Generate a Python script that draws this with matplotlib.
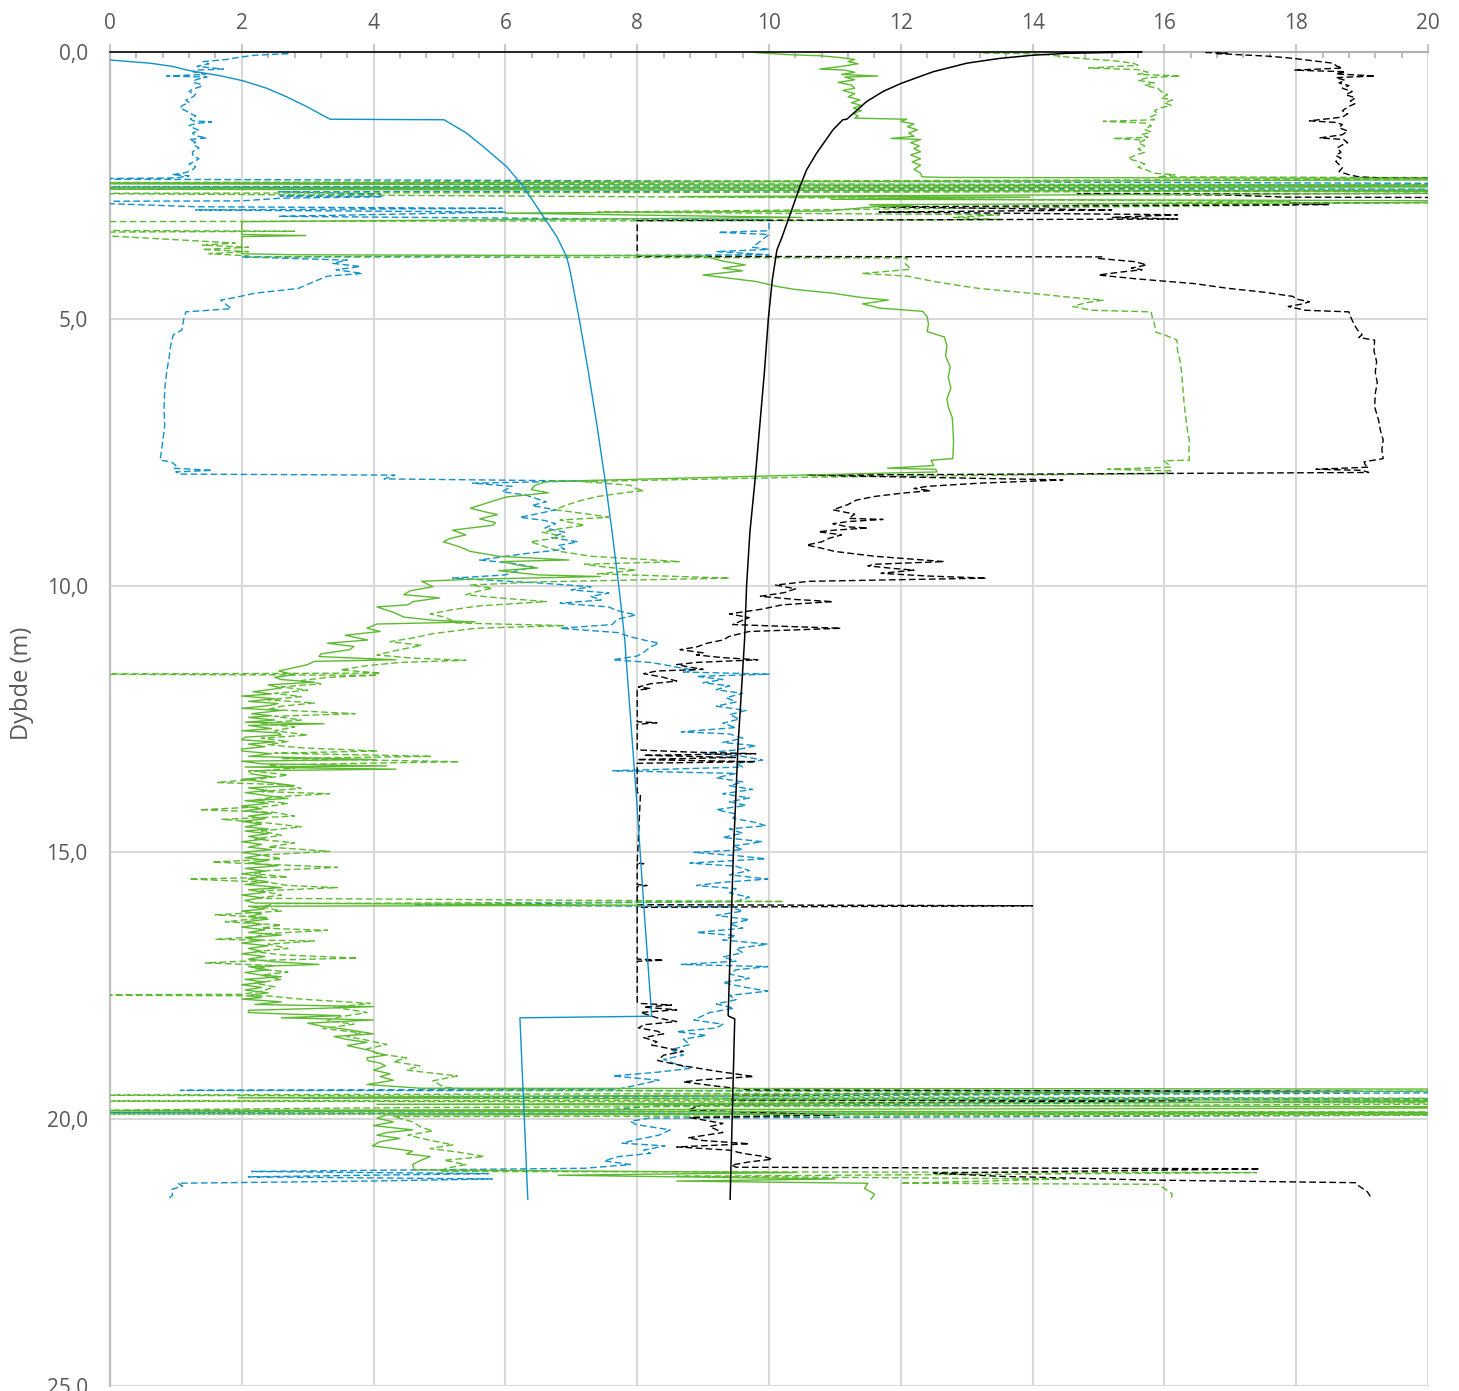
# sonderingsprofil, dybde mot måleverdier

import matplotlib
matplotlib.use('Agg')
from matplotlib import pyplot as plt
from matplotlib.ticker import MultipleLocator, FuncFormatter

# (dybde m, verdi) - lest av figuren
blaa_hel = [(0.15, 0.0), (0.21, 0.61), (0.27, 0.95), (0.35, 1.21), (0.44, 1.65), (0.54, 2.02),
            (0.68, 2.38), (0.84, 2.68), (1.02, 2.98), (1.26, 3.34),
            (1.27, 5.07), (1.52, 5.41), (1.77, 5.66), (2.15, 6.02), (2.52, 6.27), (3.09, 6.58),
            (3.46, 6.78), (3.84, 6.93), (4.09, 6.98), (5.0, 7.12), (6.0, 7.26), (7.0, 7.39),
            (8.0, 7.51), (9.0, 7.62), (10.0, 7.72), (11.0, 7.81), (12.0, 7.87), (14.0, 7.99),
            (16.0, 8.1), (18.07, 8.22), (18.1, 6.22), (21.5, 6.34)]

svart_hel = [(0.0, 0.0), (0.0, 15.66), (0.013, 15.02), (0.025, 14.52), (0.06, 14.0), (0.12, 13.5),
             (0.21, 13.0), (0.37, 12.49), (0.59, 12.0), (0.74, 11.73), (0.93, 11.48), (1.15, 11.28),
             (1.26, 11.18), (1.27, 11.12), (1.46, 10.97), (1.9, 10.72), (2.21, 10.57), (2.52, 10.47),
             (3.15, 10.29), (3.46, 10.2), (3.71, 10.12), (4.27, 10.05), (5.0, 9.99), (6.0, 9.93),
             (7.0, 9.86), (8.0, 9.79), (9.0, 9.71), (10.0, 9.66), (11.0, 9.63), (13.0, 9.53),
             (15.0, 9.46), (18.05, 9.38), (18.07, 9.39), (18.12, 9.48), (21.5, 9.41)]

gronn_hel = [(0.01, 9.79), (0.05, 10.3), (0.07, 10.77), (0.1, 11.05), (0.14, 11.3), (0.18, 11.2),
             (0.22, 11.35), (0.27, 11.1), (0.32, 10.77), (0.34, 11.15), (0.38, 11.3), (0.42, 11.1),
             (0.45, 11.65), (0.47, 11.15), (0.52, 11.3), (0.57, 11.05), (0.62, 11.25), (0.68, 11.3),
             (0.72, 11.12), (0.78, 11.3), (0.84, 11.2), (0.9, 11.38), (0.95, 11.25), (1.0, 11.4),
             (1.05, 11.28), (1.1, 11.4), (1.15, 11.28), (1.2, 11.35), (1.24, 11.3), (1.26, 12.09),
             (1.3, 12.0), (1.35, 12.2), (1.4, 12.1), (1.46, 12.25), (1.52, 12.12), (1.58, 12.2),
             (1.62, 11.85), (1.64, 12.3), (1.7, 12.15), (1.76, 12.28), (1.81, 12.2), (1.87, 12.3),
             (1.93, 12.15), (2.0, 12.3), (2.06, 12.17), (2.12, 12.3), (2.2, 12.2), (2.27, 12.3),
             (2.34, 12.32), (2.35, 12.6), (2.38, 25),
             (2.47, -1), (2.52, 25), (2.57, -1), (2.62, 25), (2.71, 8.67), (2.72, 13.96),
             (2.76, 10.94), (2.8, 25), (2.86, 11.53), (2.88, 12.17), (2.9, 11.6), (2.98, 10.9),
             (3.02, 6.0), (3.1, 10.5), (3.18, 2.0), (3.42, 2.0), (3.44, 2.97), (3.46, 2.0),
             (3.78, 2.0), (3.8, 2.8), (3.82, 9.0), (3.92, 9.3), (3.99, 9.64), (4.05, 9.3),
             (4.1, 9.6), (4.18, 9.0), (4.3, 9.8), (4.4, 10.15), (4.45, 10.4), (4.52, 10.96),
             (4.6, 11.4), (4.65, 11.81), (4.72, 11.42), (4.8, 11.68), (4.86, 12.33), (4.96, 12.4),
             (5.1, 12.42), (5.24, 12.4), (5.34, 12.66), (5.5, 12.7), (5.7, 12.68), (5.9, 12.75),
             (6.1, 12.72), (6.3, 12.76), (6.5, 12.7), (6.65, 12.72), (6.85, 12.78), (7.02, 12.79),
             (7.3, 12.8), (7.62, 12.79), (7.65, 12.46), (7.75, 12.5), (7.8, 11.8), (7.82, 12.53),
             (7.87, 12.55), (7.93, 10.47), (8.05, 6.62), (8.12, 6.45), (8.2, 6.39), (8.26, 6.65),
             (8.34, 6.01), (8.42, 5.8), (8.55, 5.47), (8.62, 5.7), (8.67, 5.88), (8.75, 5.61),
             (8.82, 5.85), (8.87, 5.81), (8.96, 5.2), (9.05, 5.4), (9.12, 5.15), (9.18, 5.06),
             (9.27, 5.3), (9.36, 5.47), (9.45, 5.9), (9.52, 6.96), (9.55, 5.95), (9.62, 6.2),
             (9.67, 6.49), (9.72, 5.9), (9.8, 6.5), (9.83, 7.44), (9.88, 5.5), (9.92, 4.73),
             (10.02, 4.9), (10.1, 4.55), (10.17, 4.46), (10.23, 5.0), (10.3, 4.6), (10.36, 4.52),
             (10.4, 4.05), (10.5, 4.3), (10.59, 4.46), (10.65, 4.9), (10.68, 5.54), (10.72, 4.05),
             (10.8, 3.9), (10.86, 4.1), (10.93, 3.57), (11.02, 3.91), (11.08, 3.3), (11.14, 3.7),
             (11.2, 3.64), (11.28, 3.2), (11.33, 3.17), (11.39, 4.34), (11.42, 3.1), (11.48, 3.0),
             (11.55, 2.75), (11.6, 2.56), (11.67, 2.79), (11.72, 2.5), (11.76, 2.6), (11.81, 3.1),
             (11.86, 2.4), (11.92, 2.6), (11.99, 2.17), (12.03, 2.45), (12.07, 2.0), (12.12, 2.5),
             (12.17, 2.1), (12.21, 2.55), (12.25, 2.4), (12.3, 2.0), (12.34, 2.6), (12.4, 2.15),
             (12.44, 2.45), (12.47, 2.1), (12.52, 2.5), (12.56, 2.05), (12.59, 3.25), (12.62, 2.1),
             (12.68, 2.45), (12.72, 2.0), (12.76, 2.55), (12.8, 2.6), (12.84, 2.05), (12.89, 2.0),
             (12.93, 2.5), (12.97, 2.1), (13.02, 2.35), (13.06, 2.0), (13.1, 2.0), (13.15, 2.45),
             (13.2, 2.1), (13.26, 4.03), (13.29, 2.0), (13.34, 2.3), (13.38, 4.2), (13.4, 2.05),
             (13.44, 4.34), (13.47, 2.1), (13.53, 2.15), (13.58, 2.45), (13.63, 2.0), (13.68, 2.35),
             (13.75, 2.8), (13.79, 2.1), (13.84, 2.4), (13.88, 2.05), (13.93, 2.35), (13.99, 2.7),
             (14.03, 2.05), (14.08, 2.4), (14.13, 2.0), (14.18, 2.3), (14.22, 2.05), (14.27, 2.45),
             (14.32, 2.1), (14.37, 2.35), (14.42, 2.0), (14.47, 2.3), (14.52, 2.05), (14.56, 2.4),
             (14.6, 2.05), (14.65, 2.4), (14.7, 2.1), (14.75, 2.35), (14.8, 2.0), (14.85, 2.3),
             (14.9, 2.1), (14.95, 2.45), (15.0, 2.0), (15.05, 2.3), (15.1, 2.05), (15.15, 2.4),
             (15.2, 2.1), (15.25, 2.55), (15.3, 2.05), (15.35, 2.35), (15.4, 2.0), (15.45, 2.3),
             (15.5, 2.1), (15.55, 2.4), (15.6, 2.05), (15.66, 2.6), (15.7, 2.1), (15.75, 2.35),
             (15.8, 2.0), (15.85, 2.3), (15.9, 2.05), (15.95, 2.2), (15.99, 8.05), (16.01, 2.1),
             (16.06, 2.35), (16.1, 2.0), (16.15, 2.3), (16.2, 2.1), (16.25, 2.4), (16.3, 2.05),
             (16.35, 2.3), (16.4, 2.0), (16.45, 2.35), (16.5, 2.1), (16.55, 2.6), (16.6, 2.05),
             (16.65, 2.3), (16.7, 2.0), (16.75, 2.4), (16.8, 2.1), (16.85, 2.3), (16.9, 2.0),
             (16.95, 2.35), (17.0, 2.1), (17.05, 2.5), (17.1, 3.17), (17.14, 2.1), (17.2, 2.4),
             (17.25, 2.05), (17.3, 2.3), (17.33, 2.6), (17.38, 2.05), (17.43, 2.35), (17.48, 2.0),
             (17.53, 2.3), (17.58, 2.05), (17.63, 2.4), (17.68, 2.1), (17.72, 2.3), (17.75, 2.0),
             (17.8, 2.6), (17.85, 2.2), (17.89, 4.0), (17.92, 3.25), (17.96, 2.1), (18.0, 2.1),
             (18.02, 2.47), (18.06, 3.5), (18.1, 2.6), (18.14, 4.0), (18.2, 3.0), (18.26, 3.23),
             (18.32, 3.6), (18.4, 4.0), (18.45, 3.4), (18.5, 3.57), (18.56, 3.9), (18.62, 3.6),
             (18.7, 3.9), (18.8, 4.18), (18.85, 3.9), (18.9, 3.91), (18.95, 4.1), (19.0, 4.18),
             (19.08, 4.0), (19.15, 4.25), (19.2, 4.1), (19.27, 4.3), (19.35, 3.9), (19.42, 4.72),
             (19.44, 25), (19.6, 1.94), (19.66, 25), (19.72, 4.05), (19.78, 25), (19.84, -1),
             (19.88, 25), (19.92, 4.2), (19.98, 4.05), (20.05, 4.3), (20.12, 4.0), (20.2, 4.59),
             (20.25, 4.2), (20.3, 4.05), (20.36, 4.4), (20.42, 4.1), (20.5, 3.98), (20.55, 4.3),
             (20.6, 4.59), (20.65, 4.5), (20.7, 4.86), (20.78, 4.7), (20.85, 4.59), (20.95, 4.62),
             (21.0, 10.4), (21.05, 6.8), (21.12, 11.0), (21.16, 8.6), (21.2, 11.5), (21.3, 11.45),
             (21.4, 11.6), (21.5, 11.55)]

gronn_stiplet = [(0.02, 13.25), (0.03, 13.9), (0.05, 14.2), (0.09, 14.5), (0.12, 14.72), (0.16, 15.2),
                 (0.21, 15.53), (0.25, 15.6), (0.3, 14.85), (0.33, 15.6), (0.38, 15.75), (0.42, 15.6),
                 (0.45, 16.24), (0.48, 15.75), (0.53, 15.6), (0.58, 15.85), (0.63, 15.7), (0.68, 15.9),
                 (0.74, 15.95), (0.8, 16.05), (0.86, 15.95), (0.9, 16.12), (0.95, 16.0), (1.0, 16.1),
                 (1.05, 15.93), (1.1, 15.85), (1.16, 15.9), (1.22, 15.78), (1.27, 15.85), (1.3, 15.07),
                 (1.33, 15.7), (1.38, 15.8), (1.45, 15.7), (1.5, 15.8), (1.55, 15.65), (1.6, 15.75),
                 (1.62, 15.22), (1.65, 15.7), (1.7, 15.6), (1.76, 15.7), (1.82, 15.6), (1.88, 15.7),
                 (1.94, 15.55), (2.0, 15.45), (2.05, 15.6), (2.1, 15.7), (2.16, 15.6), (2.22, 15.75),
                 (2.27, 15.83), (2.3, 16.16), (2.34, 15.9), (2.37, 25),
                 (2.45, -1), (2.5, 25), (2.55, -1), (2.6, 25), (2.65, -1), (2.74, 12.0),
                 (2.77, 13.95), (2.8, 17.91), (2.85, 14.68), (2.87, 18.0), (2.92, 13.5), (3.0, 7.4),
                 (3.05, 13.5), (3.1, 12.8), (3.14, 13.5), (3.16, 10.4), (3.18, -1), (3.34, -1),
                 (3.36, 2.8), (3.38, -1), (3.58, 1.9), (3.62, 1.4), (3.66, 2.1), (3.7, 1.4),
                 (3.74, 2.1), (3.78, 1.5), (3.82, 2.1), (3.84, 2.1), (3.86, 12.1), (3.96, 12.06),
                 (4.0, 12.1), (4.07, 12.15), (4.1, 11.9), (4.15, 11.41), (4.2, 12.1), (4.3, 12.5),
                 (4.38, 12.9), (4.43, 13.18), (4.52, 13.96), (4.6, 14.6), (4.65, 15.07), (4.7, 14.8),
                 (4.77, 14.61), (4.84, 14.9), (4.87, 15.8), (5.0, 15.82), (5.1, 15.85), (5.25, 15.87),
                 (5.3, 16.0), (5.4, 16.19), (5.6, 16.2), (5.8, 16.24), (6.0, 16.26), (6.3, 16.28),
                 (6.6, 16.3), (6.9, 16.33), (7.1, 16.35), (7.27, 16.38), (7.5, 16.37), (7.65, 16.38),
                 (7.66, 15.99), (7.72, 16.05), (7.78, 16.1), (7.82, 15.14), (7.85, 16.1), (7.9, 16.0),
                 (7.97, 10.47), (8.05, 7.16), (8.12, 7.9), (8.18, 7.98), (8.22, 8.1), (8.26, 7.8),
                 (8.33, 7.4), (8.4, 7.16), (8.5, 6.9), (8.58, 6.76), (8.65, 7.2), (8.72, 7.57),
                 (8.77, 6.83), (8.82, 7.0), (8.87, 7.2), (8.94, 6.8), (9.0, 6.56), (9.08, 6.9),
                 (9.14, 6.6), (9.18, 6.38), (9.27, 6.6), (9.36, 6.83), (9.45, 7.3), (9.55, 8.65),
                 (9.6, 7.2), (9.65, 7.5), (9.71, 7.98), (9.78, 7.4), (9.86, 9.4), (9.93, 6.5),
                 (9.99, 5.47), (10.05, 5.8), (10.1, 5.6), (10.17, 5.4), (10.23, 5.9), (10.3, 6.62),
                 (10.38, 5.6), (10.45, 5.2), (10.53, 4.86), (10.6, 5.1), (10.7, 5.25), (10.75, 6.9),
                 (10.8, 5.54), (10.9, 4.9), (10.98, 4.6), (11.05, 4.25), (11.12, 4.73), (11.2, 4.4),
                 (11.3, 4.05), (11.36, 4.6), (11.4, 5.4), (11.44, 4.4), (11.5, 3.9), (11.58, 3.5),
                 (11.64, 4.11), (11.66, -1), (11.68, 4.06), (11.72, 3.3), (11.78, 2.9), (11.84, 3.2),
                 (11.9, 2.6), (11.96, 3.0), (12.02, 2.5), (12.08, 2.9), (12.14, 2.4), (12.2, 3.1),
                 (12.26, 2.6), (12.32, 2.4), (12.4, 3.72), (12.45, 2.5), (12.52, 2.9), (12.58, 2.3),
                 (12.65, 2.8), (12.72, 2.5), (12.8, 3.0), (12.86, 2.3), (12.92, 2.7), (12.98, 2.4),
                 (13.04, 2.9), (13.1, 4.06), (13.14, 2.5), (13.2, 4.88), (13.24, 2.6), (13.3, 5.3),
                 (13.36, 2.4), (13.42, 2.8), (13.48, 2.2), (13.55, 2.7), (13.62, 2.3), (13.69, 1.62),
                 (13.73, 2.6), (13.8, 2.9), (13.86, 2.3), (13.9, 3.33), (13.96, 2.5), (14.02, 2.2),
                 (14.08, 2.7), (14.14, 2.4), (14.2, 1.36), (14.25, 2.5), (14.32, 2.8), (14.38, 1.7),
                 (14.45, 2.4), (14.52, 2.9), (14.6, 2.3), (14.68, 2.6), (14.75, 2.2), (14.82, 2.8),
                 (14.9, 2.4), (14.98, 3.33), (15.05, 2.3), (15.12, 2.6), (15.18, 1.55), (15.23, 2.5),
                 (15.28, 3.45), (15.34, 2.4), (15.4, 2.2), (15.46, 2.7), (15.5, 1.2), (15.56, 2.4),
                 (15.62, 2.7), (15.66, 3.45), (15.72, 2.3), (15.8, 2.6), (15.86, 2.2), (15.92, 10.22),
                 (15.96, 2.5), (16.02, 2.3), (16.1, 2.6), (16.17, 1.6), (16.22, 2.4), (16.3, 1.75),
                 (16.36, 2.6), (16.42, 2.3), (16.46, 3.3), (16.52, 2.4), (16.58, 2.2), (16.63, 1.6),
                 (16.66, 3.1), (16.72, 2.4), (16.8, 2.7), (16.86, 2.2), (16.92, 2.6), (16.98, 3.76),
                 (17.02, 2.4), (17.07, 1.45), (17.12, 2.5), (17.18, 2.2), (17.24, 2.7), (17.3, 2.3),
                 (17.38, 2.6), (17.45, 2.2), (17.52, 2.5), (17.6, 2.3), (17.66, 2.0), (17.67, -1),
                 (17.69, 2.4), (17.75, 2.9), (17.83, 3.95), (17.9, 3.4), (18.0, 3.9), (18.08, 3.5),
                 (18.15, 3.3), (18.22, 3.7), (18.3, 3.23), (18.38, 3.8), (18.45, 3.6), (18.52, 3.9),
                 (18.6, 4.2), (18.68, 3.9), (18.77, 4.05), (18.85, 4.5), (18.92, 4.3), (19.0, 4.7),
                 (19.08, 4.5), (19.19, 5.27), (19.28, 4.9), (19.4, 5.07), (19.45, 5.5),
                 (19.5, 15.9), (19.55, -1), (19.62, 25), (19.66, -1), (19.7, 25), (19.78, 4.8),
                 (19.84, -1), (19.87, 25), (19.9, -1), (19.92, 25), (19.95, 4.3), (20.05, 4.59),
                 (20.15, 4.72), (20.22, 4.9), (20.3, 4.52), (20.38, 4.8), (20.48, 5.2), (20.55, 4.86),
                 (20.62, 5.3), (20.7, 5.68), (20.77, 5.07), (20.85, 5.4), (20.92, 5.1), (20.98, 5.0),
                 (21.0, 17.4), (21.07, 8.6), (21.12, 14.5), (21.2, 12.0), (21.22, 15.9), (21.3, 16.0),
                 (21.4, 16.12), (21.5, 16.1)]

blaa_stiplet = [(0.02, 2.6), (0.03, 2.73), (0.06, 2.2), (0.1, 1.95), (0.14, 1.77), (0.18, 1.41),
                (0.22, 1.5), (0.27, 1.32), (0.32, 1.72), (0.34, 1.3), (0.37, 1.26), (0.42, 1.45),
                (0.45, 0.86), (0.47, 1.47), (0.52, 1.3), (0.57, 1.26), (0.61, 1.4), (0.65, 1.37),
                (0.7, 1.25), (0.74, 1.2), (0.79, 1.3), (0.84, 1.26), (0.9, 1.15), (0.95, 1.2),
                (1.0, 1.1), (1.05, 1.06), (1.1, 1.15), (1.14, 1.2), (1.2, 1.3), (1.25, 1.22),
                (1.29, 1.26), (1.31, 1.54), (1.34, 1.3), (1.38, 1.2), (1.42, 1.26), (1.47, 1.35),
                (1.52, 1.25), (1.57, 1.3), (1.61, 1.47), (1.64, 1.2), (1.69, 1.3), (1.73, 1.26),
                (1.8, 1.35), (1.87, 1.25), (1.95, 1.26), (2.0, 1.35), (2.04, 1.3), (2.1, 1.2),
                (2.15, 1.3), (2.2, 1.26), (2.26, 1.15), (2.3, 0.94), (2.32, 1.2), (2.36, 1.0),
                (2.38, -1), (2.48, 25), (2.53, -1), (2.58, 25), (2.62, 2.56), (2.66, 4.11),
                (2.7, 2.58), (2.71, 4.14), (2.74, 2.6), (2.79, 2.0), (2.8, -1), (2.9, 1.31),
                (2.93, 5.95), (2.96, 1.3), (3.0, 6.0), (3.08, 2.56), (3.15, 10.0), (3.35, 10.0),
                (3.38, 9.23), (3.42, 10.0), (3.66, 9.75), (3.7, 10.0), (3.74, 9.2), (3.8, 10.0),
                (3.84, 2.0), (3.9, 3.6), (3.96, 3.38), (4.02, 3.8), (4.08, 3.43), (4.15, 3.83),
                (4.2, 3.3), (4.3, 3.1), (4.43, 2.86), (4.52, 2.2), (4.6, 1.9), (4.65, 1.68),
                (4.72, 1.75), (4.81, 1.84), (4.87, 1.15), (5.0, 1.12), (5.21, 1.09), (5.3, 0.96),
                (5.5, 0.92), (5.7, 0.9), (6.0, 0.86), (6.33, 0.83), (6.7, 0.82), (7.0, 0.83),
                (7.3, 0.8), (7.65, 0.76), (7.68, 0.93), (7.75, 1.0), (7.8, 0.96), (7.84, 1.55),
                (7.87, 1.0), (7.91, 1.05), (7.93, 4.32), (8.0, 4.16), (8.04, 7.19), (8.08, 5.5),
                (8.14, 6.1), (8.24, 5.95), (8.3, 6.3), (8.43, 6.62), (8.5, 6.4), (8.58, 6.76),
                (8.65, 6.5), (8.72, 6.22), (8.78, 6.6), (8.84, 6.76), (8.92, 6.6), (9.0, 6.9),
                (9.1, 6.7), (9.18, 7.1), (9.25, 6.8), (9.32, 6.9), (9.4, 6.3), (9.52, 5.61),
                (9.58, 6.1), (9.65, 6.42), (9.73, 6.15), (9.8, 6.0), (9.86, 5.2), (9.95, 6.5),
                (10.02, 7.3), (10.08, 7.0), (10.14, 7.57), (10.2, 7.3), (10.27, 7.45), (10.33, 6.83),
                (10.4, 7.57), (10.47, 7.7), (10.55, 7.98), (10.63, 7.7), (10.73, 7.62), (10.8, 6.83),
                (10.88, 7.7), (10.96, 7.9), (11.02, 8.1), (11.08, 8.33), (11.15, 8.2), (11.24, 8.11),
                (11.32, 8.0), (11.39, 7.63), (11.44, 8.2), (11.48, 8.4), (11.53, 8.6), (11.58, 8.86),
                (11.62, 8.7), (11.66, 10.0), (11.7, 8.9), (11.76, 9.3), (11.82, 9.0), (11.88, 9.4),
                (11.95, 9.2), (12.02, 9.6), (12.1, 9.35), (12.18, 9.5), (12.26, 9.2), (12.34, 9.65),
                (12.42, 9.4), (12.5, 9.55), (12.58, 9.3), (12.66, 9.5), (12.74, 8.67), (12.78, 9.4),
                (12.86, 9.6), (12.94, 9.3), (13.0, 9.8), (13.08, 9.5), (13.14, 9.0), (13.2, 9.6),
                (13.27, 9.9), (13.33, 9.5), (13.4, 9.6), (13.47, 7.63), (13.52, 9.5), (13.6, 9.2),
                (13.68, 9.6), (13.75, 9.4), (13.82, 9.75), (13.9, 9.3), (13.98, 9.7), (14.05, 9.4),
                (14.12, 9.65), (14.2, 9.2), (14.28, 9.5), (14.36, 9.45), (14.44, 9.8), (14.5, 9.95),
                (14.56, 9.4), (14.64, 9.6), (14.72, 9.3), (14.8, 9.9), (14.88, 9.45), (14.95, 9.6),
                (15.0, 8.86), (15.06, 9.5), (15.12, 9.95), (15.2, 8.8), (15.26, 9.5), (15.34, 9.7),
                (15.42, 9.4), (15.5, 9.98), (15.56, 9.3), (15.62, 8.9), (15.68, 9.5), (15.76, 9.4),
                (15.84, 9.7), (15.92, 9.5), (15.98, 4.61), (16.02, 9.4), (16.1, 9.6), (16.18, 9.2),
                (16.26, 9.7), (16.34, 9.4), (16.42, 9.6), (16.5, 8.9), (16.56, 9.5), (16.64, 9.3),
                (16.72, 9.98), (16.8, 9.5), (16.88, 9.6), (16.96, 9.3), (17.04, 9.5), (17.1, 8.67),
                (17.14, 9.98), (17.2, 9.5), (17.28, 9.4), (17.36, 9.7), (17.44, 9.3), (17.52, 9.6),
                (17.6, 9.98), (17.68, 9.4), (17.76, 9.5), (17.84, 9.2), (17.92, 9.47), (18.0, 9.1),
                (18.14, 8.86), (18.22, 9.3), (18.29, 9.2), (18.36, 8.6), (18.43, 9.05), (18.5, 8.7),
                (18.6, 8.8), (18.7, 8.51), (18.8, 8.7), (18.88, 8.4), (18.95, 8.55), (19.05, 8.8),
                (19.12, 8.3), (19.19, 7.63), (19.27, 8.33), (19.36, 8.0), (19.44, 7.7), (19.46, 1.07),
                (19.48, 25), (19.6, 2.9), (19.62, 25), (19.75, 8.3), (19.82, 7.6), (19.88, -1),
                (19.9, 25), (19.98, 8.18), (20.04, 7.9), (20.1, 7.98), (20.2, 8.5), (20.3, 8.33),
                (20.38, 8.0), (20.45, 7.77), (20.5, 8.42), (20.58, 8.1), (20.64, 8.2), (20.7, 7.72),
                (20.78, 7.5), (20.85, 7.9), (20.92, 7.2), (20.98, 2.15), (21.02, 5.74), (21.08, 2.1),
                (21.12, 5.8), (21.16, 3.9), (21.2, 1.03), (21.25, 1.1), (21.32, 0.93), (21.42, 0.95),
                (21.5, 0.88)]

svart_stiplet = [(0.01, 16.62), (0.02, 16.95), (0.03, 16.8), (0.08, 17.6), (0.12, 17.96), (0.17, 18.3),
                 (0.21, 18.56), (0.26, 18.61), (0.3, 18.7), (0.34, 17.97), (0.37, 18.75), (0.41, 18.6),
                 (0.45, 19.2), (0.48, 18.6), (0.53, 18.74), (0.58, 18.65), (0.63, 18.8), (0.68, 18.7),
                 (0.74, 18.85), (0.8, 18.75), (0.86, 18.9), (0.92, 18.82), (0.97, 18.89), (1.02, 18.8),
                 (1.1, 18.7), (1.16, 18.78), (1.22, 18.7), (1.29, 18.2), (1.32, 18.6), (1.36, 18.7),
                 (1.42, 18.65), (1.48, 18.78), (1.55, 18.7), (1.61, 18.36), (1.64, 18.72), (1.7, 18.78),
                 (1.74, 18.7), (1.8, 18.62), (1.88, 18.68), (1.94, 18.6), (1.99, 18.68), (2.05, 18.6),
                 (2.12, 18.66), (2.17, 18.7), (2.24, 18.65), (2.3, 18.8), (2.34, 18.95), (2.36, 19.3),
                 (2.39, 25), (2.64, 25), (2.66, 14.68), (2.68, 16.96), (2.72, 17.84), (2.74, 25),
                 (2.8, 25), (2.83, 17.9), (2.86, 18.5), (2.9, 11.67), (2.96, 15.2), (3.0, 11.67),
                 (3.05, 16.2), (3.1, 15.2), (3.13, 16.2), (3.16, 8.0), (3.83, 8.0), (3.84, 15.05),
                 (3.87, 15.0), (3.93, 15.56), (3.99, 15.73), (4.05, 15.5), (4.08, 15.66), (4.13, 15.3),
                 (4.18, 15.0), (4.25, 15.56), (4.34, 16.45), (4.43, 16.97), (4.5, 17.5), (4.58, 17.95),
                 (4.63, 18.0), (4.68, 18.2), (4.72, 18.1), (4.77, 17.88), (4.84, 18.14), (4.87, 18.8),
                 (4.95, 18.82), (5.08, 18.87), (5.15, 18.9), (5.21, 18.93), (5.3, 19.0), (5.35, 18.95),
                 (5.4, 19.19), (5.6, 19.18), (5.8, 19.22), (6.0, 19.2), (6.2, 19.23), (6.4, 19.2),
                 (6.65, 19.19), (6.9, 19.25), (7.1, 19.28), (7.27, 19.32), (7.45, 19.3), (7.62, 19.32),
                 (7.68, 19.03), (7.74, 19.05), (7.78, 19.1), (7.82, 18.3), (7.84, 19.0), (7.88, 19.1),
                 (7.93, 10.57), (8.02, 14.46), (8.08, 13.2), (8.14, 12.4), (8.18, 12.2), (8.22, 12.45),
                 (8.27, 12.0), (8.33, 11.6), (8.4, 11.32), (8.48, 11.2), (8.58, 10.97), (8.66, 11.3),
                 (8.74, 11.21), (8.76, 11.73), (8.8, 11.2), (8.84, 10.97), (8.9, 11.2), (8.92, 11.5),
                 (8.96, 11.0), (8.99, 10.75), (9.05, 11.1), (9.11, 10.92), (9.18, 10.8), (9.24, 10.57),
                 (9.3, 10.8), (9.36, 11.0), (9.45, 11.6), (9.55, 12.66), (9.6, 11.6), (9.63, 11.5),
                 (9.68, 11.9), (9.71, 12.2), (9.77, 11.7), (9.82, 12.4), (9.86, 13.3), (9.92, 10.6),
                 (9.99, 10.1), (10.06, 10.4), (10.13, 10.24), (10.2, 9.87), (10.26, 10.4), (10.3, 10.97),
                 (10.36, 10.2), (10.44, 9.9), (10.53, 9.4), (10.6, 9.7), (10.65, 9.6), (10.73, 9.45),
                 (10.8, 11.09), (10.86, 9.7), (10.95, 9.4), (11.02, 9.3), (11.08, 9.06), (11.15, 8.9),
                 (11.2, 8.65), (11.26, 9.0), (11.3, 8.9), (11.35, 9.3), (11.39, 9.83), (11.44, 8.9),
                 (11.48, 8.6), (11.53, 8.8), (11.57, 9.0), (11.6, 8.3), (11.65, 8.1), (11.72, 8.4),
                 (11.79, 8.6), (11.84, 8.2), (11.9, 8.02), (11.93, 8.2), (11.96, 8.0), (12.55, 8.0),
                 (12.57, 8.3), (12.6, 8.0), (13.08, 8.0), (13.12, 8.8), (13.15, 9.8), (13.18, 8.1),
                 (13.22, 9.5), (13.26, 8.0), (13.3, 9.8), (13.33, 8.0), (13.88, 8.0), (13.9, 8.05),
                 (15.2, 8.0), (15.21, 8.1), (15.22, 8.0), (15.6, 8.0), (15.62, 8.15), (15.64, 8.0),
                 (15.98, 8.0), (16.0, 14.0), (16.03, 8.0), (17.0, 8.0), (17.02, 8.4), (17.04, 8.0),
                 (17.8, 8.0), (17.83, 8.02), (17.86, 8.52), (17.9, 8.1), (17.95, 8.6), (18.0, 8.05),
                 (18.1, 8.3), (18.17, 8.6), (18.23, 8.1), (18.29, 8.02), (18.35, 8.3), (18.4, 8.4),
                 (18.47, 8.1), (18.55, 8.3), (18.61, 8.22), (18.68, 8.5), (18.73, 8.7), (18.8, 8.4),
                 (18.9, 8.31), (18.95, 8.5), (19.0, 8.7), (19.1, 9.2), (19.2, 9.77), (19.26, 9.0),
                 (19.3, 8.7), (19.38, 9.2), (19.45, 9.7), (19.48, 18.91), (19.55, 9.43), (19.64, 9.43),
                 (19.65, 16.42), (19.72, 9.0), (19.83, 8.77), (19.92, 11.0), (19.97, 8.8), (20.08, 9.3),
                 (20.14, 9.1), (20.25, 9.3), (20.35, 8.77), (20.4, 9.0), (20.46, 9.7), (20.52, 8.6),
                 (20.58, 9.4), (20.64, 9.6), (20.7, 9.93), (20.75, 10.05), (20.8, 9.7), (20.86, 9.43),
                 (20.9, 9.5), (20.93, 17.45), (21.01, 12.5), (21.07, 13.5), (21.14, 15.75), (21.19, 18.9),
                 (21.25, 18.95), (21.36, 19.08), (21.46, 19.13), (21.49, 19.15)]

x_ticks = [0, 2, 4, 6, 8, 10, 12, 14, 16, 18, 20]
y_ticks = [0, 5, 10, 15, 20, 25]

BLAA = '#1191C9'
GRONN = '#5DBA30'
GRAA = '#595959'


def del_opp(par):
    return [p[1] for p in par], [p[0] for p in par]


fig = plt.figure(figsize=(14.59, 13.91), dpi=100)
ax = fig.add_axes([110 / 1459, 5 / 1391, 1318 / 1459, 1334 / 1391])

strek = (0, (4.8, 2.4))
for serie, farge in [(blaa_stiplet, BLAA), (gronn_stiplet, GRONN), (svart_stiplet, 'black')]:
    x, y = del_opp(serie)
    ax.plot(x, y, color=farge, lw=1.0, linestyle=strek, zorder=3)

x, y = del_opp(gronn_hel)
ax.plot(x, y, color=GRONN, lw=1.0, zorder=3)
x, y = del_opp(blaa_hel)
ax.plot(x, y, color=BLAA, lw=1.0, zorder=3)
x, y = del_opp(svart_hel)
# svart linje langs toppen skal ligge over aksen
ax.plot(x, y, color='black', lw=1.1, zorder=4, clip_on=False)

# akser
ax.set_xlim(0, 20)
ax.set_ylim(25, 0)
ax.xaxis.tick_top()
ax.set_xticks(x_ticks)
ax.set_yticks(y_ticks)
ax.xaxis.set_minor_locator(MultipleLocator(0.4))
ax.yaxis.set_major_formatter(FuncFormatter(lambda v, p: f'{v:.1f}'.replace('.', ',')))
ax.grid(True, color='#D9D9D9', lw=1.5)
ax.set_axisbelow(True)

for side in ['right', 'bottom']:
    ax.spines[side].set_visible(False)
ax.spines['left'].set_color('#BFBFBF')
ax.spines['left'].set_linewidth(1.6)
ax.spines['top'].set_color('#B0B0B0')
ax.spines['top'].set_linewidth(1.5)

ax.tick_params(axis='x', which='major', direction='out', length=6, width=1.5, color='#C8C8C8',
               labelsize=15, labelcolor=GRAA, pad=7)
ax.tick_params(axis='x', which='minor', direction='in', length=4, width=1.2, color='#B0B0B0')
ax.tick_params(axis='y', which='major', length=0, labelsize=15, labelcolor=GRAA, pad=16)
for lab in ax.get_xticklabels() + ax.get_yticklabels():
    lab.set_family('Open Sans')

ax.set_ylabel('Dybde (m)', fontsize=17, color=GRAA, family='Open Sans')
ax.yaxis.set_label_coords(-0.058, 0.527)

fig.savefig('out.png', dpi=100)
